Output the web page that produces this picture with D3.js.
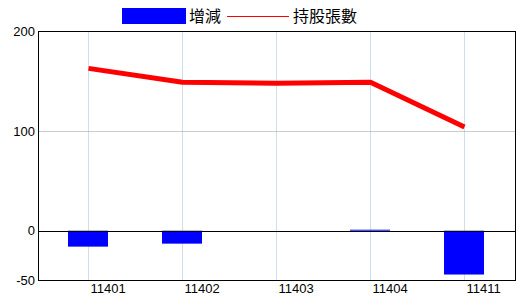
<!DOCTYPE html>
<html>
<head>
<meta charset="utf-8">
<script src="https://cdn.jsdelivr.net/npm/d3@7"></script>
<style>
    body { margin: 0; background: #fff; }
    svg { display: block; }
    .tick-label { font-family: "Liberation Sans Narrow", "Liberation Sans", Arial, sans-serif; font-size: 13px; fill: #000; }
    .legend-label { font-family: "Noto Sans CJK TC", sans-serif; font-size: 16px; fill: #000; }
</style>
</head>
<body>
<div id="container"></div>
<script>
// data
const months = ["11401", "11402", "11403", "11404", "11411"];
const changes = [-16, -13, 0, 1, -44];          // 增減
const holdings = [163, 149, 148, 149, 104];     // 持股張數
const yTicks = [200, 100, 0, -50];

var width = 520, height = 300;
// plot box (top is taken by window.top, so use plotTop)
var plotLeft = 38.5, plotRight = 515.5, plotTop = 31.5, plotBottom = 280.5;

const svg = d3.select("div#container").append("svg")
    .attr("width", width)
    .attr("height", height);

const x = d3.scaleBand().domain(months).range([41, 511]);
const y = d3.scaleLinear().domain([-50, 200]).range([plotBottom, plotTop]);

function cx(d) {
    return Math.round(x(d) + x.bandwidth() / 2) + 0.5;
}

// grid
svg.append("g")
    .selectAll("line")
    .data(months)
    .join("line")
    .attr("x1", cx).attr("x2", cx)
    .attr("y1", plotTop).attr("y2", plotBottom)
    .attr("stroke", "#9dbcd4")
    .attr("stroke-dasharray", "1,1");

svg.append("g")
    .selectAll("line")
    .data(yTicks.filter(d => d != 0 && d != 200 && d != -50))
    .join("line")
    .attr("x1", plotLeft).attr("x2", plotRight)
    .attr("y1", d => Math.round(y(d)) + 0.5).attr("y2", d => Math.round(y(d)) + 0.5)
    .attr("stroke", "#999")
    .attr("stroke-dasharray", "1,1");

// bars
const bw = 40;
svg.append("g")
    .selectAll("rect")
    .data(months)
    .join("rect")
    .attr("x", d => cx(d) - 0.5 - bw / 2)
    .attr("width", bw)
    .attr("y", (d, i) => y(Math.max(0, changes[i])))
    .attr("height", (d, i) => Math.abs(y(changes[i]) - y(0)))
    .attr("fill", "#0000ff");

// zero line
svg.append("line")
    .attr("x1", plotLeft).attr("x2", plotRight)
    .attr("y1", Math.round(y(0)) + 0.5).attr("y2", Math.round(y(0)) + 0.5)
    .attr("stroke", "#000");

// frame
svg.append("rect")
    .attr("x", plotLeft).attr("y", plotTop)
    .attr("width", plotRight - plotLeft).attr("height", plotBottom - plotTop)
    .attr("fill", "none")
    .attr("stroke", "#000");

// holdings line
const line = d3.line()
    .x((d, i) => cx(months[i]))
    .y(d => y(d));

svg.append("path")
    .datum(holdings)
    .attr("d", line)
    .attr("fill", "none")
    .attr("stroke", "#ff0000")
    .attr("stroke-width", 5)
    .attr("stroke-linejoin", "round");

// y tick labels
svg.append("g")
    .selectAll("text")
    .data(yTicks)
    .join("text")
    .attr("class", "tick-label")
    .attr("x", 35)
    .attr("y", d => y(d))
    .attr("dy", "0.35em")
    .attr("text-anchor", "end")
    .text(d => d);

// x tick labels
svg.append("g")
    .selectAll("text")
    .data(months)
    .join("text")
    .attr("class", "tick-label")
    .attr("x", d => cx(d) + 2)
    .attr("y", 293)
    .text(d => d);

// legend
const legend = svg.append("g");
legend.append("rect")
    .attr("x", 122).attr("y", 8)
    .attr("width", 64).attr("height", 16)
    .attr("fill", "#0000ff");
legend.append("text")
    .attr("class", "legend-label")
    .attr("x", 189).attr("y", 22)
    .text("增減");
legend.append("line")
    .attr("x1", 227).attr("x2", 289)
    .attr("y1", 16.5).attr("y2", 16.5)
    .attr("stroke", "#ff0000");
legend.append("text")
    .attr("class", "legend-label")
    .attr("x", 293).attr("y", 22)
    .text("持股張數");
</script>
</body>
</html>
